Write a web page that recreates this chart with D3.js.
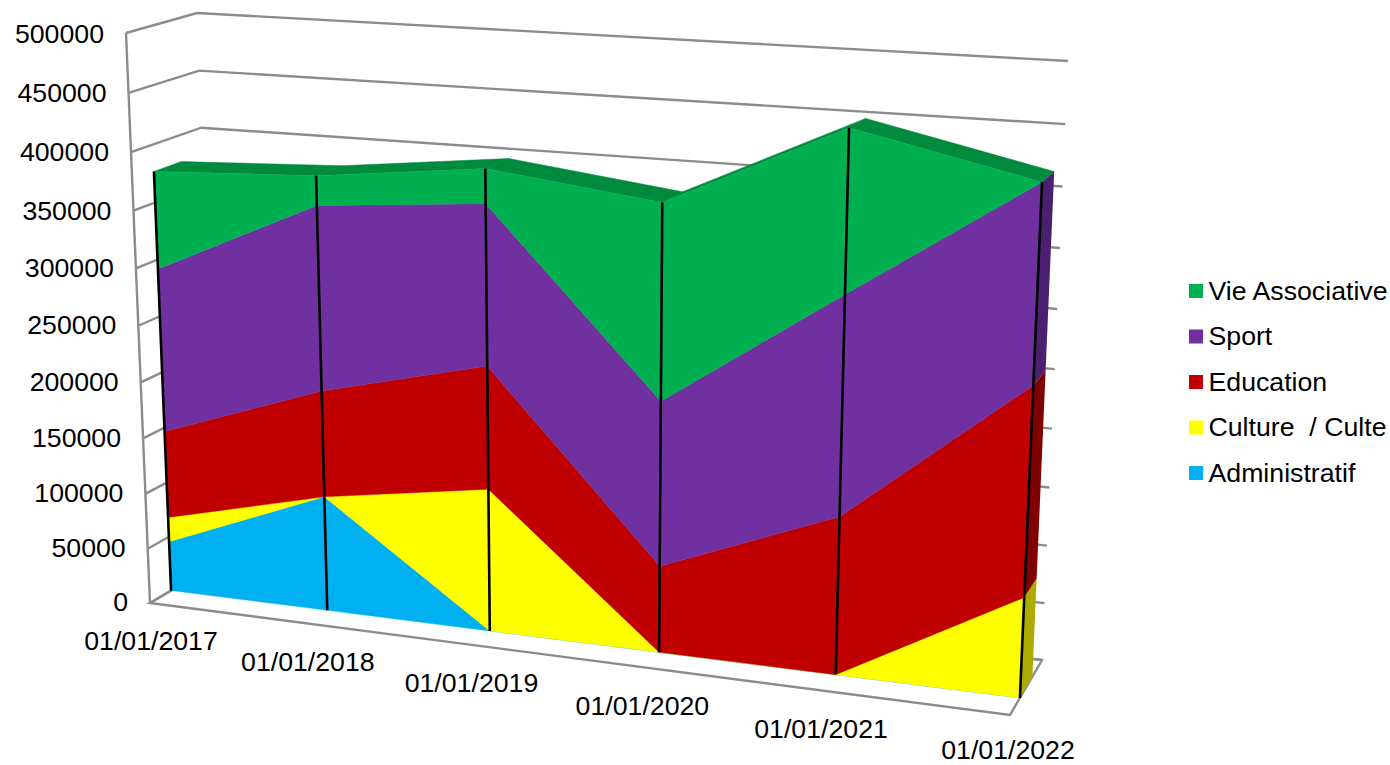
<!DOCTYPE html>
<html><head><meta charset="utf-8">
<script src="https://cdn.jsdelivr.net/npm/d3@7"></script>
<style>html,body{margin:0;padding:0;background:#fff}svg{display:block}text{font-family:"Liberation Sans",Arial,sans-serif;font-size:26.7px;fill:#000;white-space:pre}</style>
</head><body><svg id="c" width="1390" height="765"></svg>
<script>
const categories = ["01/01/2017","01/01/2018","01/01/2019","01/01/2020","01/01/2021","01/01/2022"];
const seriesNames = ["Administratif","Culture  / Culte","Education","Sport","Vie Associative"];
const administratif = [45600,103200,0,0,0,0];
const culture = [22400,0,126100,0,0,84800];
const education = [78600,94100,106900,75600,135200,173700];
const sport = [145100,160700,137100,141500,183400,160000];
const vieAssociative = [85100,25200,29100,164500,132500,0];
const yTicks = [0,50000,100000,150000,200000,250000,300000,350000,400000,450000,500000];
const faceColors = ["#00B0F0","#FFFF00","#C00000","#7030A0","#00B050"];
const topColors = ["#0080B0","#BDBD00","#8E0000","#52237A","#008A3E"];
const sideColors = ["#0078A5","#ABAB00","#7E0000","#4A2070","#007A35"];

// box corners [bottom-left, bottom-right, top-right, top-left]
const frontQuad = [[150,603],[1010,715],[1037,82],[126,33]];
const backQuad  = [[218,563],[1042,660],[1068,61],[197,13]];
const depthFront = 0.31, depthRear = 0.70;

function homography(q){
  const [[x0,y0],[x1,y1],[x2,y2],[x3,y3]] = q;
  const dx1=x1-x2,dx2=x3-x2,sx=x0-x1+x2-x3,dy1=y1-y2,dy2=y3-y2,sy=y0-y1+y2-y3;
  const den=dx1*dy2-dx2*dy1, g=(sx*dy2-dx2*sy)/den, h=(dx1*sy-sx*dy1)/den;
  const a=x1-x0+g*x1,b=x3-x0+h*x3,d=y1-y0+g*y1,e=y3-y0+h*y3;
  return (u,v)=>{const n=g*u+h*v+1;return [(a*u+b*v+x0)/n,(d*u+e*v+y0)/n];};
}
const hf=homography(frontQuad), hb=homography(backQuad);
const xs=d3.scalePoint().domain(categories).range([0,1]);
const ys=d3.scaleLinear().domain([0,500000]).range([0,1]);
function proj(cat,val,w){
  const u=xs(cat),v=ys(val),p=hf(u,v),q=hb(u,v);
  return [p[0]+(q[0]-p[0])*w,p[1]+(q[1]-p[1])*w];
}
const line=d3.line();
const svg=d3.select("#c");
const gridCol="#8c8c8c";
const last=categories[categories.length-1], first=categories[0];

// walls
const walls=svg.append("g").attr("fill","none").attr("stroke",gridCol).attr("stroke-width",2.4);
yTicks.forEach(t=>{
  walls.append("path").attr("d",line([proj(first,t,0),proj(first,t,1),proj(last,t,1)]));
});
walls.append("path").attr("d",line([proj(first,0,0),proj(first,500000,0)]));
walls.append("path").attr("d",line([proj(first,0,0),proj(last,0,0),proj(last,0,1),proj(first,0,1)])+"Z");

// stack
const table=categories.map((c,i)=>({cat:c,[seriesNames[0]]:administratif[i],[seriesNames[1]]:culture[i],[seriesNames[2]]:education[i],[seriesNames[3]]:sport[i],[seriesNames[4]]:vieAssociative[i]}));
const stacked=d3.stack().keys(seriesNames)(table);
const topLayer=stacked[stacked.length-1];

// top surface of the upper layer
const tops=svg.append("g");
d3.pairs(topLayer).forEach(([a,b])=>{
  tops.append("path").attr("fill",topColors[4]).attr("stroke",topColors[4]).attr("stroke-width",0.5)
    .attr("d",line([proj(a.data.cat,a[1],depthFront),proj(b.data.cat,b[1],depthFront),proj(b.data.cat,b[1],depthRear),proj(a.data.cat,a[1],depthRear)])+"Z");
});
// right end face
const sides=svg.append("g");
stacked.forEach((s,k)=>{
  const d=s[s.length-1];
  if(d[1]===d[0])return;
  sides.append("path").attr("fill",sideColors[k])
    .attr("d",line([proj(last,d[0],depthFront),proj(last,d[1],depthFront),proj(last,d[1],depthRear),proj(last,d[0],depthRear)])+"Z");
});
// front faces
const faces=svg.append("g");
stacked.forEach((s,k)=>{
  const up=s.map(d=>proj(d.data.cat,d[1],depthFront));
  const dn=s.map(d=>proj(d.data.cat,d[0],depthFront)).reverse();
  faces.append("path").attr("fill",faceColors[k]).attr("stroke",faceColors[k]).attr("stroke-width",0.4)
    .attr("d",line(up.concat(dn))+"Z");
});
// drop lines
const drops=svg.append("g").attr("stroke","#000").attr("stroke-width",2.6);
topLayer.forEach(d=>{
  const p=proj(d.data.cat,0,depthFront), q=proj(d.data.cat,d[1],depthFront);
  drops.append("line").attr("x1",p[0]).attr("y1",p[1]).attr("x2",q[0]).attr("y2",q[1]);
});
// value labels
const labelNudge=d3.scaleLinear().domain([0,500000]).range([-1,1]);
yTicks.forEach(t=>{
  const p=proj(first,t,0);
  svg.append("text").attr("x",p[0]-22).attr("y",p[1]+labelNudge(t)-0.6).attr("dy","0.35em").attr("text-anchor","end").text(d3.format("d")(t));
});
// category labels
const catNudge=d3.scaleLinear().domain([0,1]).range([1,-2]);
categories.forEach(c=>{
  const p=proj(c,0,0);
  svg.append("text").attr("x",p[0]+catNudge(xs(c))).attr("y",Math.min(p[1]+38,749.5)).attr("dy","0.35em").attr("text-anchor","middle").text(c);
});
// legend
const legendY=d3.scalePoint().domain(d3.range(5)).range([291,473]);
seriesNames.slice().reverse().forEach((n,i)=>{
  svg.append("rect").attr("x",1189).attr("y",legendY(i)-7).attr("width",14).attr("height",14).attr("fill",faceColors[4-i]);
  svg.append("text").attr("x",1208.5).attr("y",legendY(i)-0.5).attr("dy","0.35em").text(n);
});
</script></body></html>
